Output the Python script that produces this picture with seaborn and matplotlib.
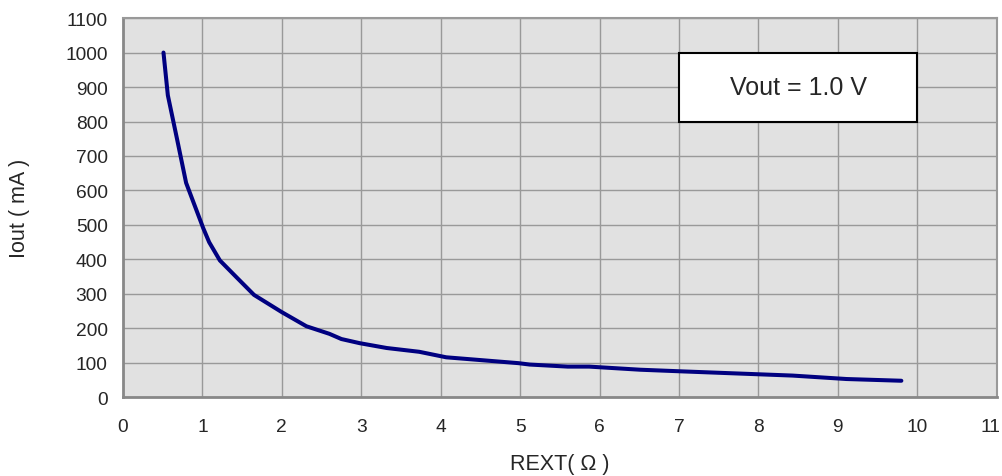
"""Iout vs REXT curve at Vout = 1.0 V."""

import matplotlib

matplotlib.use("Agg")

import matplotlib.pyplot as plt
import matplotlib.transforms as mtransforms
import pandas as pd
import seaborn as sns
from matplotlib.patches import Rectangle

# values
rext_ohm = [0.51, 0.565, 0.68, 0.795, 1.01, 1.085, 1.22, 1.43, 1.65, 2.0,
            2.31, 2.6, 2.75, 2.98, 3.32, 3.73, 4.07, 4.98, 5.12, 5.6,
            5.87, 6.51, 7.06, 8.43, 9.11, 9.8]
iout_ma = [1000, 876, 750, 622, 491, 450, 397, 348, 297, 247,
           206, 184, 169, 157, 143, 132, 116, 99, 95, 89,
           89, 80, 75, 63, 53, 48]

x_ticks = list(range(0, 12))
y_ticks = list(range(0, 1200, 100))
note_text = "Vout = 1.0 V"

df = pd.DataFrame({"rext": rext_ohm, "iout": iout_ma})

sns.set_style("white")
plt.rcParams["font.family"] = ["Liberation Sans", "DejaVu Sans"]

fig = plt.figure(figsize=(10.03, 4.77), dpi=100)
ax = fig.add_axes([0.1226, 0.165, 0.8711, 0.795])
ax.set_facecolor("#e1e1e1")

sns.lineplot(data=df, x="rext", y="iout", sort=False, estimator=None,
             color="#000080", linewidth=2.9, ax=ax, zorder=3)

ax.set_xlim(0, 11)
ax.set_ylim(0, 1100)
ax.set_xticks(x_ticks)
ax.set_yticks(y_ticks)
ax.grid(True, color="#999999", linewidth=1.0)
ax.set_axisbelow(True)
ax.tick_params(axis="both", length=0, labelsize=13.8)
ax.tick_params(axis="x", pad=15)
ax.tick_params(axis="y", pad=11)

# the last x label sits a little inside the right edge in the reference
last_label = ax.get_xticklabels()[-1]
last_label.set_transform(last_label.get_transform()
                         + mtransforms.ScaledTranslation(-6 / 100, 0, fig.dpi_scale_trans))

for side in ["left", "bottom"]:
    ax.spines[side].set_color("#888888")
    ax.spines[side].set_linewidth(2.0)
for side in ["top", "right"]:
    ax.spines[side].set_color("#999999")
    ax.spines[side].set_linewidth(1.5)

ax.set_xlabel("REXT( Ω )", fontsize=15.5, labelpad=13)
ax.set_ylabel("Iout ( mA )", fontsize=15.5, labelpad=25)

# note box spanning x 7..10, y 800..1000
ax.add_patch(Rectangle((7, 800), 3, 200, facecolor="white", edgecolor="black",
                       linewidth=1.5, zorder=4))
ax.text(8.5, 900, note_text, ha="center", va="center", fontsize=18, zorder=5)

fig.savefig("out.png", dpi=100)
plt.close(fig)
